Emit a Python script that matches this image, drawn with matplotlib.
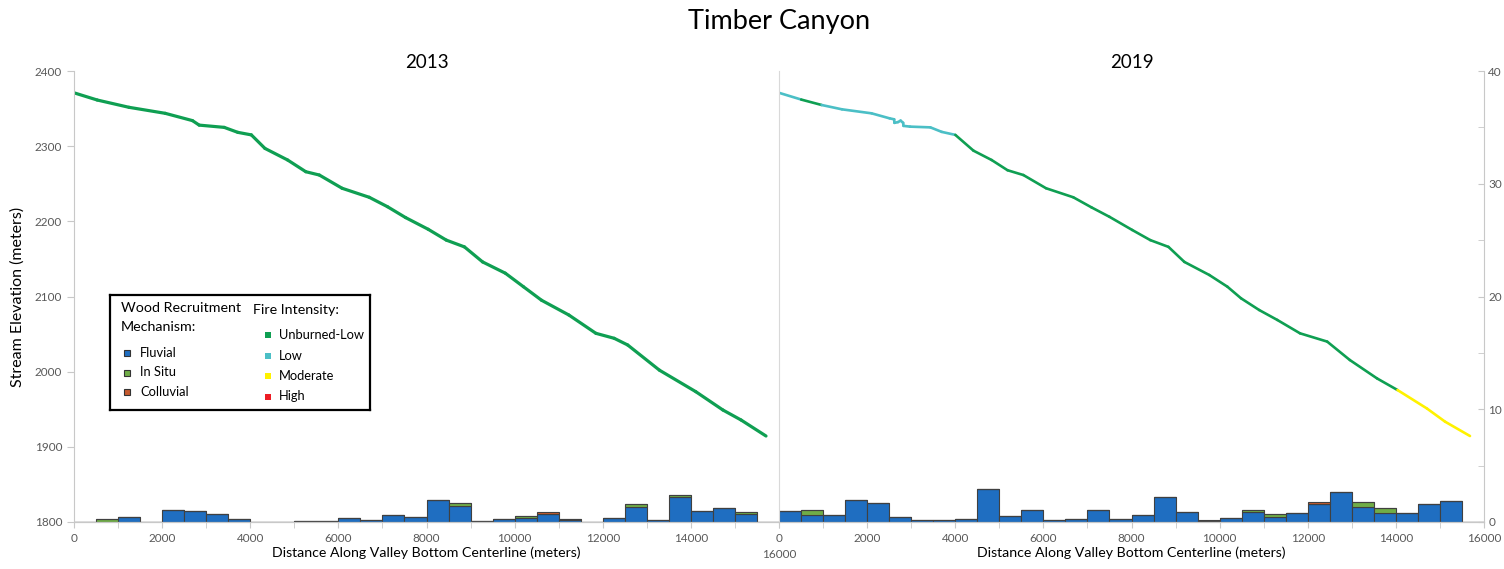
import numpy as np
import matplotlib.pyplot as plt
from matplotlib.collections import LineCollection

plt.rcParams['font.family'] = ['Lato', 'DejaVu Sans']

# longitudinal stream profile (distance along valley bottom, elevation)
dist_2013 = [0, 527, 1247, 2070, 2688, 2841, 3409, 3716, 4025, 4334, 4848, 5261, 5568,
             6084, 6700, 7113, 7525, 8039, 8450, 8861, 9273, 9789, 10200, 10611, 11230,
             11845, 12259, 12566, 13286, 14111, 14727, 15139, 15705]
elev_2013 = [2371, 2361.4, 2351.7, 2343.7, 2334, 2328, 2325, 2318.4, 2315, 2297, 2281.6,
             2266, 2261.6, 2244, 2232, 2219.5, 2205, 2189.4, 2175, 2166, 2146, 2131, 2113,
             2095, 2075.4, 2051, 2044.4, 2035.5, 2002, 1973.4, 1949, 1935.7, 1914.4]

dist_2019 = [0, 504, 966, 1430, 2100, 2511, 2614, 2620, 2700, 2760, 2818, 2825, 2973,
             3436, 3693, 4002, 4414, 4825, 5186, 5546, 6061, 6679, 7091, 7500, 8016, 8427,
             8839, 9200, 9766, 10177, 10486, 10898, 11309, 11825, 12441, 12955, 13573,
             14036, 14705, 15116, 15682]
elev_2019 = [2371, 2362, 2354.8, 2349, 2343.7, 2337, 2335.7, 2331, 2332, 2334, 2331, 2327,
             2326, 2325, 2319, 2315, 2294, 2281.6, 2268, 2261.6, 2244, 2232, 2218.6, 2206,
             2188.5, 2175, 2166, 2146, 2128.6, 2113, 2097.6, 2082, 2068.8, 2051, 2040,
             2015.5, 1991, 1975.6, 1951, 1933.5, 1914.4]
# fire intensity of the reach starting at each profile point
fire_2013 = ['Unburned-Low'] * len(dist_2013)
fire_2019 = (['Low'] + ['Unburned-Low'] + ['Low'] * 13 + ['Unburned-Low'] * 22
             + ['Moderate'] * 4)

# wood recruitment per 500 m reach
bin_start = list(range(0, 16000, 500))
fluvial_2013 = [0, 0, 0.4, 0, 1.06, 1.0, 0.68, 0.3, 0, 0, 0.1, 0.1, 0.38, 0.15, 0.6, 0.47,
                1.95, 1.4, 0.1, 0.3, 0.33, 0.68, 0.17, 0, 0.38, 1.36, 0.15, 2.22, 1.0, 1.27,
                0.67, 0]
insitu_2013 = [0, 0.27, 0, 0, 0, 0, 0, 0, 0, 0, 0, 0, 0, 0, 0, 0,
               0, 0.25, 0, 0, 0.17, 0, 0.1, 0, 0, 0.2, 0, 0.18, 0, 0, 0.24, 0]
colluvial_2013 = [0, 0, 0, 0, 0, 0, 0, 0, 0, 0, 0, 0, 0, 0, 0, 0,
                  0, 0, 0, 0, 0, 0.24, 0, 0, 0, 0, 0, 0, 0, 0, 0, 0]
fluvial_2019 = [1.0, 0.62, 0.62, 1.95, 1.7, 0.41, 0.15, 0.15, 0.24, 2.9, 0.53, 1.03, 0.18,
                0.24, 1.03, 0.3, 0.59, 2.18, 0.86, 0.1, 0.32, 0.86, 0.47, 0.77, 1.6, 2.65,
                1.36, 0.77, 0.77, 1.6, 1.88, 0]
insitu_2019 = [0, 0.44, 0, 0, 0, 0, 0, 0, 0, 0, 0, 0, 0, 0, 0, 0,
               0, 0, 0, 0, 0, 0.2, 0.24, 0, 0, 0, 0.41, 0.44, 0, 0, 0, 0]
colluvial_2019 = [0, 0, 0, 0, 0, 0, 0, 0, 0, 0, 0, 0, 0, 0, 0, 0,
                  0, 0, 0, 0.05, 0, 0, 0, 0, 0.2, 0, 0, 0, 0, 0, 0, 0]

fire_colors = {'Unburned-Low': '#0f9f52', 'Low': '#4bbfc6',
               'Moderate': '#fff200', 'High': '#ed1c24'}
wood_colors = {'Fluvial': '#1f6ec1', 'In Situ': '#70ad47', 'Colluvial': '#c65a2e'}
tick_grey = '#595959'
spine_grey = '#c8c8c8'

panels = [
    ('2013', dist_2013, elev_2013, fire_2013, fluvial_2013, insitu_2013, colluvial_2013),
    ('2019', dist_2019, elev_2019, fire_2019, fluvial_2019, insitu_2019, colluvial_2019),
]

fig = plt.figure(figsize=(15.04, 5.69), dpi=100)
fig.text(0.518, 0.962, 'Timber Canyon', ha='center', va='center', fontsize=19.5)

left0 = 74 / 1504
pw = 705 / 1504
bottom = 1 - 522 / 569
ph = (522 - 71) / 569

for i, (year, dist, elev, fire, flu, ins, col) in enumerate(panels):
    ax = fig.add_axes([left0 + i * pw, bottom, pw, ph])
    axc = ax.twinx()
    ax.set_zorder(axc.get_zorder() + 1)
    ax.patch.set_visible(False)

    # stacked wood recruitment bars on count axis
    flu = np.array(flu)
    ins = np.array(ins)
    col = np.array(col)
    kw = dict(width=500, align='edge', edgecolor='#404040', linewidth=0.8)
    axc.bar(bin_start, flu, color=wood_colors['Fluvial'], **kw)
    axc.bar(bin_start, ins, bottom=flu, color=wood_colors['In Situ'], **kw)
    axc.bar(bin_start, col, bottom=flu + ins, color=wood_colors['Colluvial'], **kw)
    axc.set_ylim(0, 40)

    # profile line coloured by fire intensity
    pts = np.column_stack([dist, elev])
    segs = np.stack([pts[:-1], pts[1:]], axis=1)
    lc = LineCollection(segs, colors=[fire_colors[f] for f in fire[:-1]],
                        linewidths=2.3 if i == 0 else 1.9, capstyle='round')
    ax.add_collection(lc)
    ax.set_xlim(0, 16000)
    ax.set_ylim(1800, 2400)

    for a in (ax, axc):
        for s in a.spines.values():
            s.set_color(spine_grey)
        a.spines['top'].set_visible(False)
    ax.spines['right'].set_visible(False)
    axc.spines['left'].set_visible(False)

    ax.set_xticks(range(0, 16001, 2000))
    ax.set_xticks(range(0, 16001, 1000), minor=True)
    ax.tick_params(axis='x', colors=spine_grey, labelcolor=tick_grey, labelsize=8.5,
                   length=4, direction='out', pad=4)
    ax.tick_params(axis='x', which='minor', colors=spine_grey, length=4)
    ax.set_xlabel('Distance Along Valley Bottom Centerline (meters)', fontsize=10.2,
                  labelpad=2)
    ax.set_title(year, fontsize=13.5, pad=2)

    if i == 0:
        ax.set_yticks(range(1800, 2401, 100))
        ax.tick_params(axis='y', colors=spine_grey, labelcolor=tick_grey, labelsize=8.5,
                       length=5, direction='out')
        ax.set_ylabel('Stream Elevation (meters)', fontsize=11.5, labelpad=7)
        axc.set_yticks([])
        axc.spines['right'].set_visible(False)
        # last label sits lower so it clears the 2019 panel's 0
        ax.set_xticks(range(0, 16000, 2000))
        ax.text(16000, -0.06, '16000', transform=ax.get_xaxis_transform(),
                ha='center', va='top', fontsize=8.5, color=tick_grey)
    else:
        ax.set_yticks([])
        ax.spines['left'].set_color('#d9d9d9')
        axc.set_yticks(range(0, 41, 10))
        axc.set_yticks(range(0, 41, 5), minor=True)
        axc.tick_params(axis='y', which='both', colors=spine_grey, labelcolor=tick_grey,
                        labelsize=8.5, length=4, direction='in')
        axc.tick_params(axis='y', pad=3)

    if i == 0:
        # legend box
        lg = fig.add_axes([110 / 1504, 1 - 410 / 569, 260 / 1504, 115 / 569])
        lg.set_xlim(0, 260)
        lg.set_ylim(115, 0)
        lg.set_xticks([])
        lg.set_yticks([])
        for s in lg.spines.values():
            s.set_color('black')
            s.set_linewidth(1.6)
        lg.text(11, 13, 'Wood Recruitment', fontsize=10.3, va='center')
        lg.text(11, 32, 'Mechanism:', fontsize=10.3, va='center')
        for k, name in enumerate(wood_colors):
            y = 58 + k * 19.5
            lg.plot(17, y, 's', ms=5, color=wood_colors[name], mec='#333333', mew=0.8)
            lg.text(30, y, name, fontsize=9.3, va='center')
        lg.text(143, 15, 'Fire Intensity:', fontsize=10.3, va='center')
        for k, name in enumerate(fire_colors):
            y = 40 + k * 20.5
            lg.plot(158, y, 's', ms=4.5, color=fire_colors[name], mew=0)
            lg.text(169, y, name, fontsize=9.3, va='center')

fig.savefig('out.png', dpi=100)
